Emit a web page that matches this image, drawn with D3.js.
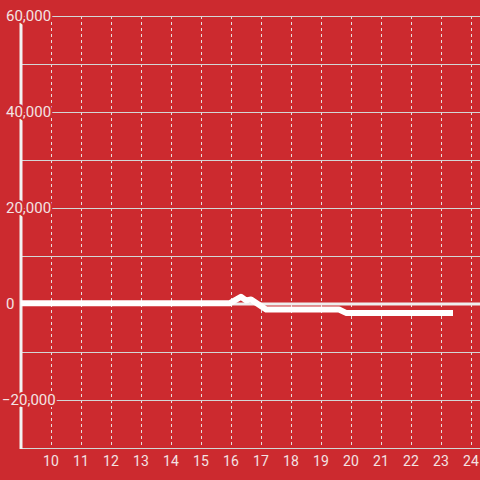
<!DOCTYPE html>
<html><head><meta charset="utf-8">
<script src="https://cdn.jsdelivr.net/npm/d3@7"></script>
<style>
html,body{margin:0;padding:0;background:#cc2a2f;}
svg{display:block;}
</style></head>
<body>
<svg id="chart" width="480" height="480"></svg>
<script>
// Data (hour of day vs. value)
const hours  = [9, 15.95, 16.33, 16.5, 16.67, 17.17, 19.6, 19.85, 23.4];
const values = [150, 150, 1500, 750, 950, -1150, -1150, -1900, -1900];
const xTicks = [10, 11, 12, 13, 14, 15, 16, 17, 18, 19, 20, 21, 22, 23, 24];
const yGrid  = [60000, 50000, 40000, 30000, 20000, 10000, -10000, -20000];
const yLabels = [60000, 40000, 20000, 0, -20000];

const W = 480, H = 480;
const bg = "#cc2a2f";
const svg = d3.select("#chart");
svg.append("rect").attr("width", W).attr("height", H).attr("fill", bg);

const x = d3.scaleLinear().domain([8.9667, 24.3]).range([20, 480]);
const y = d3.scaleLinear().domain([-30000, 60000]).range([448, 16]);

// vertical dashed grid
svg.append("g").selectAll("line").data(xTicks).join("line")
  .attr("x1", d => Math.round(x(d)) + 0.5).attr("x2", d => Math.round(x(d)) + 0.5)
  .attr("y1", 16).attr("y2", 448)
  .attr("stroke", "#e6dede").attr("stroke-width", 1).attr("stroke-dasharray", "3,3");

// horizontal grid
svg.append("g").selectAll("line").data(yGrid).join("line")
  .attr("x1", 20).attr("x2", 480)
  .attr("y1", d => Math.round(y(d)) + 0.5).attr("y2", d => Math.round(y(d)) + 0.5)
  .attr("stroke", "#d3d6d6").attr("stroke-width", 1);

// bottom axis line
svg.append("line").attr("x1", 20).attr("x2", 480).attr("y1", 448.5).attr("y2", 448.5)
  .attr("stroke", "#d3d6d6").attr("stroke-width", 1);

// zero line
svg.append("line").attr("x1", 20).attr("x2", 480).attr("y1", y(0)).attr("y2", y(0))
  .attr("stroke", "#eeeeee").attr("stroke-width", 3);

// y axis line
svg.append("line").attr("x1", 21).attr("x2", 21).attr("y1", 16).attr("y2", 449)
  .attr("stroke", "#f2f2f2").attr("stroke-width", 3);

// data line
const line = d3.line().x((d, i) => x(hours[i])).y(d => y(d));
svg.append("path").datum(values).attr("d", line)
  .attr("fill", "none").attr("stroke", "#ffffff").attr("stroke-width", 6)
  .attr("stroke-linejoin", "round");

// y labels with halo
const fmt = d3.format(",");
svg.append("g").selectAll("text").data(yLabels).join("text")
  .attr("x", d => d < 0 ? 2 : 6).attr("y", d => y(d)).attr("dy", "0.35em")
  .attr("text-anchor", "start")
  .attr("font-family", "Roboto, sans-serif").attr("font-size", 15)
  .attr("fill", "#f3e3e3").attr("stroke", bg).attr("stroke-width", 4)
  .attr("paint-order", "stroke")
  .text(d => fmt(d));

// x labels
svg.append("g").selectAll("text").data(xTicks).join("text")
  .attr("x", d => x(d)).attr("y", 461).attr("dy", "0.35em")
  .attr("text-anchor", "middle")
  .attr("font-family", "Roboto, sans-serif").attr("font-size", 14)
  .attr("fill", "#f3e3e3")
  .text(d => d);
</script>
</body></html>
